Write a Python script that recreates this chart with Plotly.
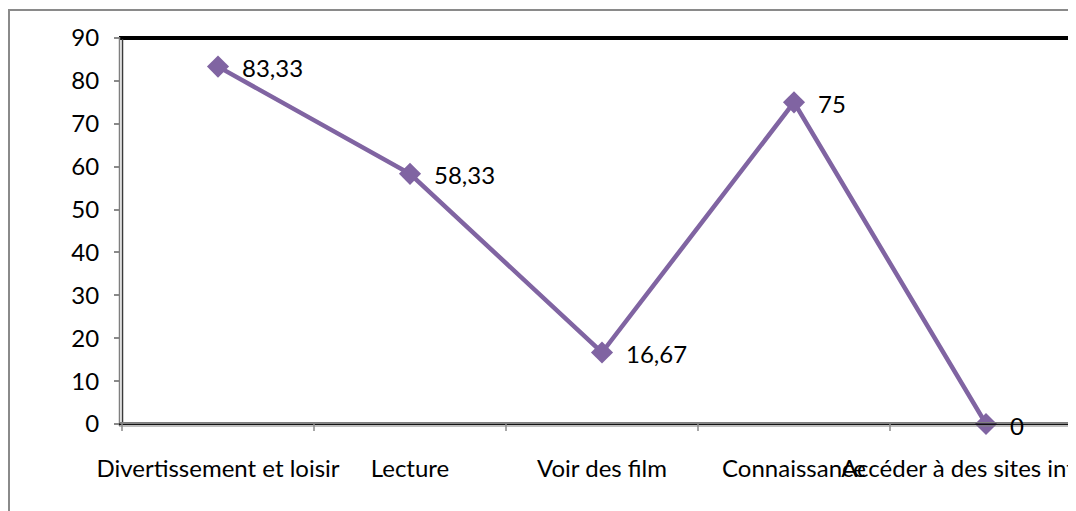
import plotly.graph_objects as go

categories = ["Divertissement et loisir", "Lecture", "Voir des film", "Connaissance",
              "Accéder à des sites internet"]
values = [83.33, 58.33, 16.67, 75, 0]
labels = ["83,33", "58,33", "16,67", "75", "0"]
y_ticks = [0, 10, 20, 30, 40, 50, 60, 70, 80, 90]

# page body has an 8px margin: figure origin sits at window (8, 8)
OFF = 8
W, H = 1076, 511 - OFF
L = 121 - OFF
T = 38 - OFF
B = H - (424 - OFF)
PW = W - L
PH = H - T - B
FONT = "Lato, 'Open Sans', sans-serif"
FS = 24
PURPLE = "#8064A2"

fig = go.Figure()
fig.add_trace(go.Scatter(
    x=list(range(len(categories))), y=values, mode="lines+markers",
    line=dict(color=PURPLE, width=4.5),
    marker=dict(symbol="diamond", size=17, color=PURPLE),
    cliponaxis=False, hoverinfo="skip",
))
for i, (v, t) in enumerate(zip(values, labels)):
    fig.add_annotation(x=i, y=v, text=t, showarrow=False, xanchor="left",
                       yanchor="middle", xshift=22, yshift=-1,
                       font=dict(family=FONT, size=FS, color="black"))

def px2x(p):
    return (p - OFF - L) / PW

def py2y(p):
    return (H - B - (p - OFF)) / PH

shapes = [
    # outer chart border
    dict(type="line", xref="paper", yref="paper", x0=px2x(8), x1=px2x(1100),
         y0=py2y(10), y1=py2y(10), line=dict(color="#8a8a8a", width=2)),
    dict(type="line", xref="paper", yref="paper", x0=px2x(9), x1=px2x(9),
         y0=py2y(10), y1=py2y(530), line=dict(color="#8a8a8a", width=2)),
    # top plot border
    dict(type="line", xref="paper", yref="paper", x0=px2x(119), x1=px2x(1100),
         y0=py2y(38), y1=py2y(38), line=dict(color="black", width=4)),
    # left double line
    dict(type="line", xref="paper", yref="paper", x0=px2x(119.5), x1=px2x(119.5),
         y0=py2y(37), y1=py2y(426), line=dict(color="#7f7f7f", width=1.5)),
    dict(type="line", xref="paper", yref="paper", x0=px2x(122.5), x1=px2x(122.5),
         y0=py2y(39), y1=py2y(423), line=dict(color="#3a3a3a", width=1.5)),
    # bottom double line
    dict(type="line", xref="paper", yref="paper", x0=px2x(119), x1=px2x(1100),
         y0=py2y(422.5), y1=py2y(422.5), line=dict(color="#7f7f7f", width=1.2)),
    dict(type="line", xref="paper", yref="paper", x0=px2x(119), x1=px2x(1100),
         y0=py2y(424.2), y1=py2y(424.2), line=dict(color="#111111", width=1.5)),
    dict(type="line", xref="paper", yref="paper", x0=px2x(119), x1=px2x(1100),
         y0=py2y(426), y1=py2y(426), line=dict(color="#7f7f7f", width=1.2)),
]

x0 = -0.5 - 1 / 192
x1 = (W + OFF - 218) / 192

fig.update_layout(
    width=W, height=H,
    margin=dict(l=L, r=0, t=T, b=B, pad=0, autoexpand=False),
    paper_bgcolor="white", plot_bgcolor="white",
    showlegend=False,
    shapes=shapes,
    font=dict(family=FONT, size=FS, color="black"),
    xaxis=dict(
        range=[x0, x1], tickmode="array", automargin=False,
        tickvals=list(range(len(categories))), ticktext=categories,
        tickangle=0, showgrid=False, zeroline=False, showline=False,
        ticks="", ticklabelstandoff=28, ticklabeloverflow="allow",
        tickfont=dict(family=FONT, size=FS, color="black"),
    ),
    yaxis=dict(
        range=[0, 90], tickmode="array", tickvals=y_ticks, automargin=False,
        showgrid=False, zeroline=False, showline=False,
        ticks="outside", ticklen=6, tickcolor="#8a8a8a", tickwidth=1.5,
        ticklabelstandoff=10,
        tickfont=dict(family=FONT, size=FS, color="black"),
    ),
)

# category boundary tick marks on the x axis
for b in range(len(categories) + 1):
    xb = b - 0.5
    fig.add_shape(type="line", xref="x", yref="paper", x0=xb, x1=xb,
                  y0=py2y(424), y1=py2y(431), line=dict(color="#8a8a8a", width=1.5))

fig.write_html("out.html")
